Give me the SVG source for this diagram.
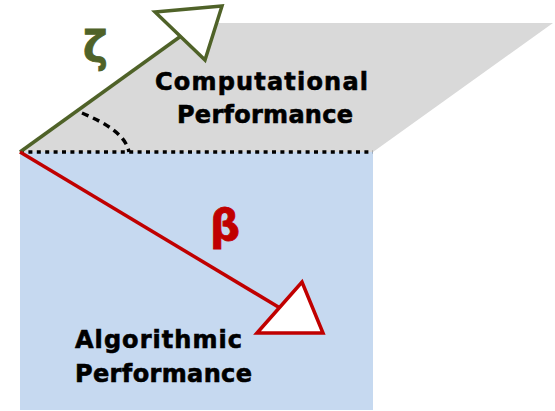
<svg xmlns="http://www.w3.org/2000/svg" width="555" height="411" viewBox="0 0 555 411">
  <style>
    .label { font-family: "DejaVu Sans", Verdana, sans-serif; font-weight: bold; font-size: 24px; fill: #000; stroke: #000; stroke-width: 0.6; }
    .greek { font-family: "DejaVu Sans", sans-serif; font-weight: bold; font-size: 42px; stroke-width: 0.8; }
    .zeta { stroke: #4F6228; stroke-width: 3.5; fill: none; }
    .beta { stroke: #C00000; stroke-width: 3.5; fill: none; }
    .head { fill: #fff; stroke-linejoin: miter; }
  </style>
  <rect width="555" height="411" fill="#fff"/>

  <!-- computational plane (tilted back) -->
  <g id="computational-plane">
    <polygon points="20,152 199,23 553,23 373,152" fill="#D9D9D9"/>
    <text class="label" x="155" y="90" textLength="213" lengthAdjust="spacing">Computational</text>
    <text class="label" x="177" y="123" textLength="176" lengthAdjust="spacing">Performance</text>
  </g>

  <!-- algorithmic plane (front) -->
  <g id="algorithmic-plane">
    <rect x="20" y="152" width="353" height="258" fill="#C6D9F0"/>
    <text class="label" x="75" y="348" textLength="167" lengthAdjust="spacing">Algorithmic</text>
    <text class="label" x="75" y="382" textLength="177" lengthAdjust="spacing">Performance</text>
  </g>

  <!-- shared edge and angle between the planes -->
  <g id="hinge">
    <line x1="20" y1="152" x2="373" y2="152" stroke="#000" stroke-width="3.5" stroke-dasharray="4 4.4"/>
    <path d="M82,113 C108,124 126,136 129,152" fill="none" stroke="#000" stroke-width="3.5" stroke-dasharray="7 5"/>
  </g>

  <!-- direction vectors -->
  <g id="connectors">
    <line class="zeta" x1="20" y1="152" x2="181" y2="36"/>
    <polygon class="zeta head" points="155,12 222,6 205,60"/>
    <line class="beta" x1="20" y1="152" x2="280" y2="308"/>
    <polygon class="beta head" points="257,333 302,282 323,333"/>
  </g>

  <g id="zeta-label">
    <text class="greek" x="83" y="62" fill="#4F6228" stroke="#4F6228">ζ</text>
  </g>
  <g id="beta-label">
    <text class="greek" x="210" y="240" fill="#C00000" stroke="#C00000">β</text>
  </g>
</svg>
